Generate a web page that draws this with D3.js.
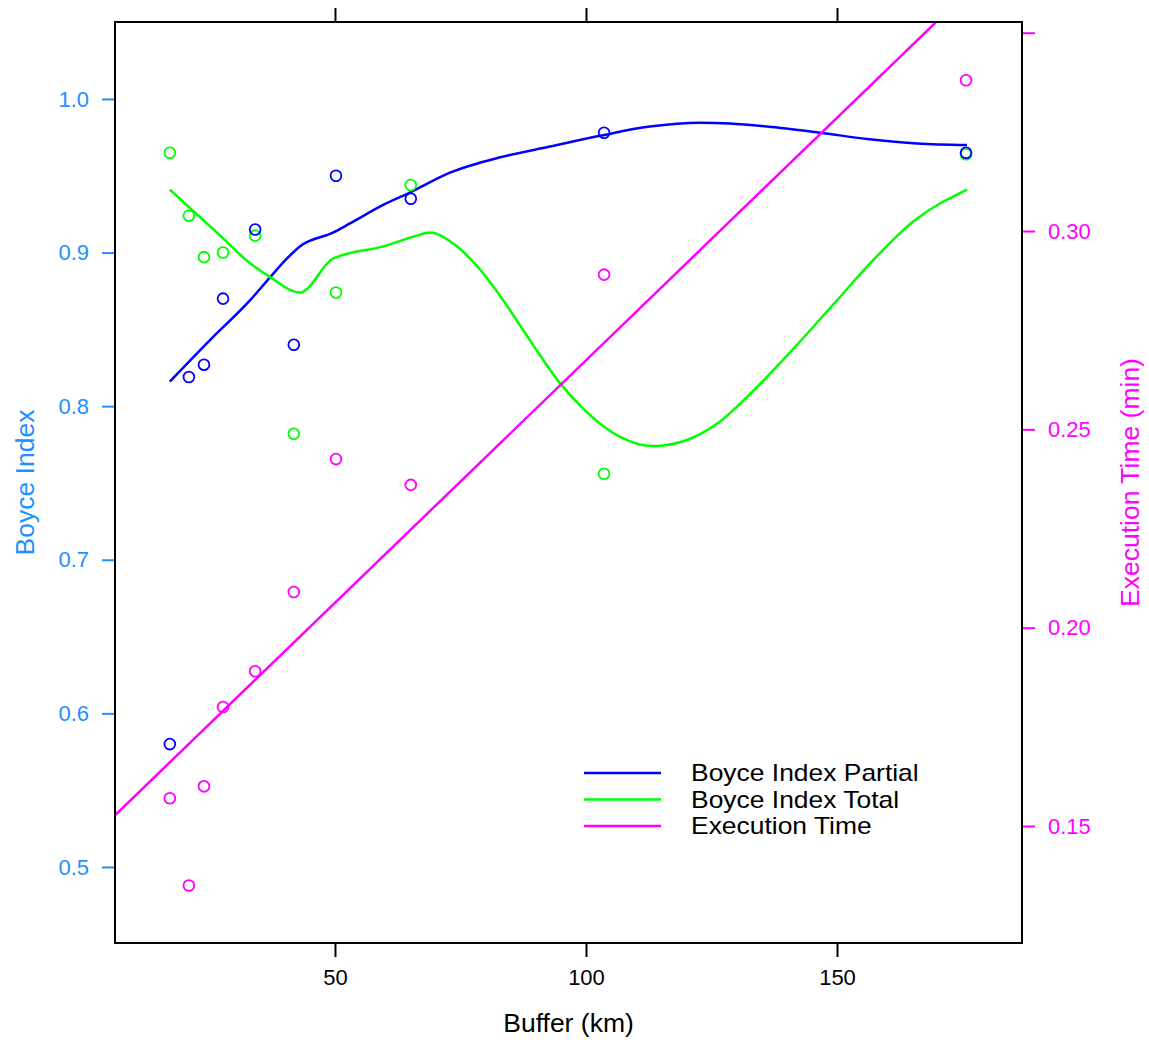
<!DOCTYPE html>
<html>
<head>
<meta charset="utf-8">
<script src="https://cdn.jsdelivr.net/npm/d3@7"></script>
<style>
  body { margin: 0; background: #fff; }
  svg { display: block; font-family: "Liberation Sans", Arial, sans-serif; }
</style>
</head>
<body>
<script>
// buffer sizes (km) of the runs
const buffers = [17.1, 20.9, 23.9, 27.7, 34.1, 41.8, 50.2, 65.1, 103.6, 175.7];

// observed values at each buffer
const boycePartial = [0.580, 0.819, 0.827, 0.870, 0.915, 0.840, 0.950, 0.935, 0.978, 0.965];
const boyceTotal   = [0.965, 0.924, 0.897, 0.900, 0.911, 0.782, 0.874, 0.944, 0.756, 0.964];
const execTime     = [0.157, 0.135, 0.160, 0.180, 0.189, 0.209, 0.2425, 0.236, 0.289, 0.338];

// smoothed curves
const partialFitX = [17.1, 25.1, 33.1, 37.1, 40.4, 43.0, 49.6, 53.0, 59.6, 64.9, 72.9, 82.9, 92.8, 102.8, 112.7, 122.7, 128.7, 136.1, 146.6, 156.0, 166.0, 175.9];
const partialFitY = [0.816, 0.843, 0.869, 0.884, 0.896, 0.904, 0.913, 0.919, 0.931, 0.939, 0.952, 0.962, 0.969, 0.976, 0.982, 0.9845, 0.984, 0.982, 0.978, 0.974, 0.971, 0.970];
const totalFitX = [17.1, 21.1, 26.5, 33.1, 37.1, 43.0, 49.6, 59.6, 66.3, 68.9, 73.5, 78.9, 83.5, 88.8, 94.8, 100.2, 106.8, 113.3, 120.1, 126.7, 132.7, 141.2, 149.2, 157.2, 165.1, 175.9];
const totalFitY = [0.941, 0.929, 0.913, 0.893, 0.884, 0.874, 0.896, 0.904, 0.911, 0.913, 0.906, 0.889, 0.869, 0.843, 0.815, 0.796, 0.780, 0.774, 0.778, 0.790, 0.808, 0.837, 0.866, 0.895, 0.920, 0.941];
// straight fit of execution time, ends at the panel edges
const execFitX = [6.18, 186.85];
const execFitY = [0.1527, 0.3736];

const leftTicks = [0.5, 0.6, 0.7, 0.8, 0.9, 1.0];
const rightTicks = [0.15, 0.20, 0.25, 0.30, 0.35];
const rightLabels = ["0.15", "0.20", "0.25", "0.30", ""];
const xTicks = [50, 100, 150];

const seriesNames = ["Boyce Index Partial", "Boyce Index Total", "Execution Time"];
const seriesColors = ["#0000ff", "#00ff00", "#ff00ff"];

const width = 1149, height = 1040;
const margin = {top: 22, right: 127, bottom: 97, left: 115};
const innerW = width - margin.left - margin.right;
const innerH = height - margin.top - margin.bottom;

const svg = d3.select("body").append("svg")
    .attr("width", width)
    .attr("height", height);

const x = d3.scaleLinear().domain([6.18, 186.85]).range([margin.left, margin.left + innerW]);
const yLeft = d3.scaleLinear().domain([0.4505, 1.0501]).range([margin.top + innerH, margin.top]);
const yRight = d3.scaleLinear().domain([0.1205, 0.3527]).range([margin.top + innerH, margin.top]);

svg.append("clipPath").attr("id", "panel")
  .append("rect")
    .attr("x", margin.left).attr("y", margin.top)
    .attr("width", innerW).attr("height", innerH);

const plot = svg.append("g").attr("clip-path", "url(#panel)");

const line = (xs, ys, yScale) => d3.line()
    .x(i => x(xs[i]))
    .y(i => yScale(ys[i]))
    .curve(d3.curveMonotoneX)(d3.range(xs.length));

const lines = [
  {xs: partialFitX, ys: partialFitY, scale: yLeft, color: seriesColors[0]},
  {xs: totalFitX, ys: totalFitY, scale: yLeft, color: seriesColors[1]},
  {xs: execFitX, ys: execFitY, scale: yRight, color: seriesColors[2]}
];

plot.selectAll("path.fit")
  .data(lines)
  .enter().append("path")
    .attr("class", "fit")
    .attr("fill", "none")
    .attr("stroke", d => d.color)
    .attr("stroke-width", 2.5)
    .attr("d", d => line(d.xs, d.ys, d.scale));

const points = [
  {vals: boyceTotal, scale: yLeft, color: seriesColors[1]},
  {vals: boycePartial, scale: yLeft, color: seriesColors[0]},
  {vals: execTime, scale: yRight, color: seriesColors[2]}
];

points.forEach(p => {
  plot.selectAll(null)
    .data(buffers)
    .enter().append("circle")
      .attr("cx", d => x(d))
      .attr("cy", (d, i) => p.scale(p.vals[i]))
      .attr("r", 5.4)
      .attr("fill", "none")
      .attr("stroke", p.color)
      .attr("stroke-width", 1.8);
});

// axes
const tickFont = "22px";
const axisBottomG = svg.append("g")
    .attr("transform", `translate(0,${margin.top + innerH})`)
    .call(d3.axisBottom(x).tickValues(xTicks).tickSize(14).tickPadding(12));
const axisTopG = svg.append("g")
    .attr("transform", `translate(0,${margin.top})`)
    .call(d3.axisTop(x).tickValues(xTicks).tickSize(14).tickFormat(""));
[axisBottomG, axisTopG].forEach(g => {
  g.select(".domain").remove();
  g.selectAll("line").attr("stroke", "#000").attr("stroke-width", 2);
  g.selectAll("text").attr("font-size", tickFont).attr("fill", "#000").attr("font-family", null);
});

const axisLeftG = svg.append("g")
    .attr("transform", `translate(${margin.left},0)`)
    .call(d3.axisLeft(yLeft).tickValues(leftTicks).tickSize(13).tickPadding(13).tickFormat(d3.format(".1f")));
axisLeftG.select(".domain").remove();
axisLeftG.selectAll("line").attr("stroke", "#1e90ff").attr("stroke-width", 2);
axisLeftG.selectAll("text").attr("font-size", tickFont).attr("fill", "#1e90ff").attr("font-family", null);

const axisRightG = svg.append("g")
    .attr("transform", `translate(${margin.left + innerW},0)`)
    .call(d3.axisRight(yRight).tickValues(rightTicks).tickSize(13).tickPadding(13)
      .tickFormat((d, i) => rightLabels[i]));
axisRightG.select(".domain").remove();
axisRightG.selectAll("line").attr("stroke", "#ff00ff").attr("stroke-width", 2);
axisRightG.selectAll("text").attr("font-size", tickFont).attr("fill", "#ff00ff").attr("font-family", null);

// panel frame
svg.append("rect")
    .attr("x", margin.left).attr("y", margin.top)
    .attr("width", innerW).attr("height", innerH)
    .attr("fill", "none").attr("stroke", "#000").attr("stroke-width", 2);

// titles
const titleFont = 26.5;
const cx = margin.left + innerW / 2, cy = margin.top + innerH / 2;
svg.append("text")
    .attr("x", cx).attr("y", 1032)
    .attr("text-anchor", "middle").attr("font-size", titleFont)
    .text("Buffer (km)");
svg.append("text")
    .attr("transform", `translate(34,${cy}) rotate(-90)`)
    .attr("text-anchor", "middle").attr("font-size", titleFont).attr("fill", "#1e90ff")
    .text("Boyce Index");
svg.append("text")
    .attr("transform", `translate(1139,${cy}) rotate(-90)`)
    .attr("text-anchor", "middle").attr("font-size", titleFont).attr("fill", "#ff00ff")
    .text("Execution Time (min)");

// legend: rows are tight, so a slightly smaller font stretched a bit wider
const legend = svg.append("g").attr("transform", "translate(584,773)");
const items = legend.selectAll("g")
  .data(seriesNames)
  .enter().append("g")
    .attr("transform", (d, i) => `translate(0,${i * 26.5})`);
items.append("line")
    .attr("x1", 0).attr("x2", 77)
    .attr("stroke", (d, i) => seriesColors[i])
    .attr("stroke-width", 2.5);
items.append("text")
    .attr("transform", "translate(107,0) scale(1.13,1)")
    .attr("dy", "0.36em")
    .attr("font-size", 23.4)
    .text(d => d);
</script>
</body>
</html>
